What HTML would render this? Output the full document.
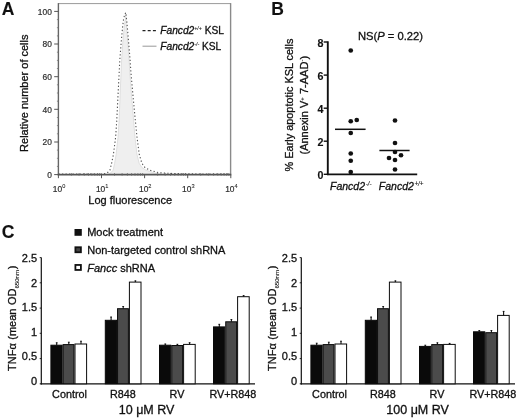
<!DOCTYPE html>
<html><head><meta charset="utf-8"><title>Figure</title>
<style>
svg text{fill:#111;stroke:#111;stroke-width:0.3px;}
svg text[font-weight=bold]{stroke-width:0.12px;}
svg tspan[font-size]{stroke-width:0.1px;}
svg text.g{fill:#2e2e2e;stroke:#2e2e2e;stroke-width:0.2px;}
html,body{margin:0;padding:0;background:#fff;}
body{width:520px;height:419px;overflow:hidden;font-family:"Liberation Sans",sans-serif;}
svg{display:block;}
</style></head><body>
<svg width="520" height="419" viewBox="0 0 520 419">
<rect width="520" height="419" fill="#fff"/>
<g style="filter:blur(0.35px)">
<path d="M108,174.3 L110.9,172.8 L113.1,170.2 L114.6,163.3 L116.1,154.6 L118.0,137.3 L119.1,120.0 L120.3,90.0 L121.6,60.0 L122.9,41.0 L124.0,29.5 L124.9,21.3 L125.9,17.0 L125.4,15.0 L126.0,21.3 L126.8,30.5 L127.7,41.0 L129.1,60.0 L129.8,72.0 L131.6,96.0 L133.6,120.0 L135.0,137.3 L137.0,154.6 L139.2,163.3 L141.9,167.5 L146.0,170.2 L154.1,172.8 L160,174.3 Z" fill="#efefef" stroke="#d6d6d6" stroke-width="0.7"/>
<path d="M58.5,174.0 L100.0,174.0 L104.0,173.8 L107.3,172.8 L109.9,170.2 L111.6,163.3 L113.4,154.6 L115.6,137.3 L116.8,120.0 L118.3,90.0 L119.8,60.0 L121.3,41.0 L122.6,27.0 L123.6,18.8 L124.8,14.5 L125.8,12.5 L126.5,18.8 L127.4,28.0 L128.5,41.0 L130.1,60.0 L130.9,72.0 L133.0,96.0 L135.3,120.0 L137.0,137.3 L139.3,154.6 L141.9,163.3 L145.0,167.5 L149.7,170.2 L159.2,172.8 L175.0,173.6 L200.0,174.0 L230.5,174.0" fill="none" stroke="#555" stroke-width="1.1" stroke-dasharray="1.3,2.2"/>
<path d="M58.4,3.6 H230.8" fill="none" stroke="#9a9a9a" stroke-width="1"/>
<path d="M230.60000000000002,3.1 V174.6" fill="none" stroke="#8a8a8a" stroke-width="1.4"/>
<path d="M58.4,3.1 V175.4" fill="none" stroke="#666" stroke-width="1.4"/>
<path d="M57.699999999999996,174.6 H231.3" fill="none" stroke="#555" stroke-width="1.6"/>
<path d="M54.199999999999996,174.6 H58.4" stroke="#555" stroke-width="1"/>
<text x="51.8" y="178.0" font-family="Liberation Sans, sans-serif" font-size="8.4" text-anchor="end" class="g">0</text>
<path d="M56.9,166.4 H58.4" stroke="#777" stroke-width="0.8"/>
<path d="M56.9,158.3 H58.4" stroke="#777" stroke-width="0.8"/>
<path d="M56.9,150.1 H58.4" stroke="#777" stroke-width="0.8"/>
<path d="M54.199999999999996,142.0 H58.4" stroke="#555" stroke-width="1"/>
<text x="51.8" y="145.4" font-family="Liberation Sans, sans-serif" font-size="8.4" text-anchor="end" class="g">20</text>
<path d="M56.9,133.8 H58.4" stroke="#777" stroke-width="0.8"/>
<path d="M56.9,125.6 H58.4" stroke="#777" stroke-width="0.8"/>
<path d="M56.9,117.5 H58.4" stroke="#777" stroke-width="0.8"/>
<path d="M54.199999999999996,109.3 H58.4" stroke="#555" stroke-width="1"/>
<text x="51.8" y="112.7" font-family="Liberation Sans, sans-serif" font-size="8.4" text-anchor="end" class="g">40</text>
<path d="M56.9,101.2 H58.4" stroke="#777" stroke-width="0.8"/>
<path d="M56.9,93.0 H58.4" stroke="#777" stroke-width="0.8"/>
<path d="M56.9,84.8 H58.4" stroke="#777" stroke-width="0.8"/>
<path d="M54.199999999999996,76.7 H58.4" stroke="#555" stroke-width="1"/>
<text x="51.8" y="80.1" font-family="Liberation Sans, sans-serif" font-size="8.4" text-anchor="end" class="g">60</text>
<path d="M56.9,68.5 H58.4" stroke="#777" stroke-width="0.8"/>
<path d="M56.9,60.4 H58.4" stroke="#777" stroke-width="0.8"/>
<path d="M56.9,52.2 H58.4" stroke="#777" stroke-width="0.8"/>
<path d="M54.199999999999996,44.0 H58.4" stroke="#555" stroke-width="1"/>
<text x="51.8" y="47.4" font-family="Liberation Sans, sans-serif" font-size="8.4" text-anchor="end" class="g">80</text>
<path d="M56.9,35.9 H58.4" stroke="#777" stroke-width="0.8"/>
<path d="M56.9,27.7 H58.4" stroke="#777" stroke-width="0.8"/>
<path d="M56.9,19.6 H58.4" stroke="#777" stroke-width="0.8"/>
<path d="M54.199999999999996,11.4 H58.4" stroke="#555" stroke-width="1"/>
<text x="51.8" y="14.8" font-family="Liberation Sans, sans-serif" font-size="8.4" text-anchor="end" class="g">100</text>
<path d="M58.4,174.6 V178.2" stroke="#555" stroke-width="1"/>
<text x="52.8" y="191.5" font-family="Liberation Sans, sans-serif" font-size="8.4" class="g">10<tspan dy="-3.4" font-size="5.6">0</tspan></text>
<path d="M71.4,173.0 V175.79999999999998" stroke="#666" stroke-width="0.7"/>
<path d="M79.0,173.0 V175.79999999999998" stroke="#666" stroke-width="0.7"/>
<path d="M84.3,173.0 V175.79999999999998" stroke="#666" stroke-width="0.7"/>
<path d="M88.5,173.0 V175.79999999999998" stroke="#666" stroke-width="0.7"/>
<path d="M91.9,173.0 V175.79999999999998" stroke="#666" stroke-width="0.7"/>
<path d="M94.8,173.0 V175.79999999999998" stroke="#666" stroke-width="0.7"/>
<path d="M97.3,173.0 V175.79999999999998" stroke="#666" stroke-width="0.7"/>
<path d="M99.5,173.0 V175.79999999999998" stroke="#666" stroke-width="0.7"/>
<path d="M101.5,174.6 V178.2" stroke="#555" stroke-width="1"/>
<text x="95.9" y="191.5" font-family="Liberation Sans, sans-serif" font-size="8.4" class="g">10<tspan dy="-3.4" font-size="5.6">1</tspan></text>
<path d="M114.5,173.0 V175.79999999999998" stroke="#666" stroke-width="0.7"/>
<path d="M122.1,173.0 V175.79999999999998" stroke="#666" stroke-width="0.7"/>
<path d="M127.4,173.0 V175.79999999999998" stroke="#666" stroke-width="0.7"/>
<path d="M131.6,173.0 V175.79999999999998" stroke="#666" stroke-width="0.7"/>
<path d="M135.0,173.0 V175.79999999999998" stroke="#666" stroke-width="0.7"/>
<path d="M137.9,173.0 V175.79999999999998" stroke="#666" stroke-width="0.7"/>
<path d="M140.4,173.0 V175.79999999999998" stroke="#666" stroke-width="0.7"/>
<path d="M142.6,173.0 V175.79999999999998" stroke="#666" stroke-width="0.7"/>
<path d="M144.6,174.6 V178.2" stroke="#555" stroke-width="1"/>
<text x="139.0" y="191.5" font-family="Liberation Sans, sans-serif" font-size="8.4" class="g">10<tspan dy="-3.4" font-size="5.6">2</tspan></text>
<path d="M157.6,173.0 V175.79999999999998" stroke="#666" stroke-width="0.7"/>
<path d="M165.2,173.0 V175.79999999999998" stroke="#666" stroke-width="0.7"/>
<path d="M170.5,173.0 V175.79999999999998" stroke="#666" stroke-width="0.7"/>
<path d="M174.7,173.0 V175.79999999999998" stroke="#666" stroke-width="0.7"/>
<path d="M178.1,173.0 V175.79999999999998" stroke="#666" stroke-width="0.7"/>
<path d="M181.0,173.0 V175.79999999999998" stroke="#666" stroke-width="0.7"/>
<path d="M183.5,173.0 V175.79999999999998" stroke="#666" stroke-width="0.7"/>
<path d="M185.7,173.0 V175.79999999999998" stroke="#666" stroke-width="0.7"/>
<path d="M187.7,174.6 V178.2" stroke="#555" stroke-width="1"/>
<text x="182.1" y="191.5" font-family="Liberation Sans, sans-serif" font-size="8.4" class="g">10<tspan dy="-3.4" font-size="5.6">3</tspan></text>
<path d="M200.7,173.0 V175.79999999999998" stroke="#666" stroke-width="0.7"/>
<path d="M208.3,173.0 V175.79999999999998" stroke="#666" stroke-width="0.7"/>
<path d="M213.6,173.0 V175.79999999999998" stroke="#666" stroke-width="0.7"/>
<path d="M217.8,173.0 V175.79999999999998" stroke="#666" stroke-width="0.7"/>
<path d="M221.2,173.0 V175.79999999999998" stroke="#666" stroke-width="0.7"/>
<path d="M224.1,173.0 V175.79999999999998" stroke="#666" stroke-width="0.7"/>
<path d="M226.6,173.0 V175.79999999999998" stroke="#666" stroke-width="0.7"/>
<path d="M228.8,173.0 V175.79999999999998" stroke="#666" stroke-width="0.7"/>
<path d="M230.8,174.6 V178.2" stroke="#555" stroke-width="1"/>
<text x="225.2" y="191.5" font-family="Liberation Sans, sans-serif" font-size="8.4" class="g">10<tspan dy="-3.4" font-size="5.6">4</tspan></text>
<text x="1.7" y="15.3" font-family="Liberation Sans, sans-serif" font-size="17.5" font-weight="bold" fill="#111">A</text>
<text transform="translate(28.1,93.2) rotate(-90)" font-family="Liberation Sans, sans-serif" font-size="11" text-anchor="middle" fill="#222">Relative number of cells</text>
<text x="130.2" y="204.3" font-family="Liberation Sans, sans-serif" font-size="11" text-anchor="middle" fill="#222">Log fluorescence</text>
<path d="M142.5,30.6 H156.5" stroke="#222" stroke-width="1.2" stroke-dasharray="3,2.2"/>
<path d="M142.5,46.2 H156.5" stroke="#999" stroke-width="1"/>
<text x="160.3" y="34" font-family="Liberation Sans, sans-serif" font-size="10.2" fill="#222"><tspan font-style="italic">Fancd2</tspan><tspan dy="-3.6" font-size="5.2" font-style="italic">+/+</tspan><tspan dy="3.6"> KSL</tspan></text>
<text x="160.3" y="49.6" font-family="Liberation Sans, sans-serif" font-size="10.2" fill="#222"><tspan font-style="italic">Fancd2</tspan><tspan dy="-3.6" font-size="5.2" font-style="italic">-/-</tspan><tspan dy="3.6"> KSL</tspan></text>
<path d="M327.8,41.3 V175.1" stroke="#111" stroke-width="1.9" fill="none"/>
<path d="M326.90000000000003,174.3 H417.2" stroke="#111" stroke-width="1.7" fill="none"/>
<path d="M323.70000000000005,174.3 H327.6" stroke="#111" stroke-width="1.4"/>
<text x="323.4" y="179.0" font-family="Liberation Sans, sans-serif" font-size="10.7" font-weight="bold" text-anchor="end" fill="#111">0</text>
<path d="M323.70000000000005,141.2 H327.6" stroke="#111" stroke-width="1.4"/>
<text x="323.4" y="145.9" font-family="Liberation Sans, sans-serif" font-size="10.7" font-weight="bold" text-anchor="end" fill="#111">2</text>
<path d="M323.70000000000005,108.2 H327.6" stroke="#111" stroke-width="1.4"/>
<text x="323.4" y="112.9" font-family="Liberation Sans, sans-serif" font-size="10.7" font-weight="bold" text-anchor="end" fill="#111">4</text>
<path d="M323.70000000000005,75.1 H327.6" stroke="#111" stroke-width="1.4"/>
<text x="323.4" y="79.8" font-family="Liberation Sans, sans-serif" font-size="10.7" font-weight="bold" text-anchor="end" fill="#111">6</text>
<path d="M323.70000000000005,42.0 H327.6" stroke="#111" stroke-width="1.4"/>
<text x="323.4" y="46.7" font-family="Liberation Sans, sans-serif" font-size="10.7" font-weight="bold" text-anchor="end" fill="#111">8</text>
<circle cx="350.75" cy="50.5" r="2.35" fill="#111"/>
<circle cx="350.75" cy="121.25" r="2.35" fill="#111"/>
<circle cx="356.75" cy="120" r="2.35" fill="#111"/>
<circle cx="350.75" cy="133" r="2.35" fill="#111"/>
<circle cx="350.75" cy="153.5" r="2.35" fill="#111"/>
<circle cx="350.75" cy="160.75" r="2.35" fill="#111"/>
<circle cx="350.75" cy="172" r="2.35" fill="#111"/>
<circle cx="395" cy="120.5" r="2.35" fill="#111"/>
<circle cx="395" cy="143" r="2.35" fill="#111"/>
<circle cx="395" cy="152" r="2.35" fill="#111"/>
<circle cx="401" cy="155.25" r="2.35" fill="#111"/>
<circle cx="389" cy="158" r="2.35" fill="#111"/>
<circle cx="395" cy="160" r="2.35" fill="#111"/>
<circle cx="395" cy="169.5" r="2.35" fill="#111"/>
<path d="M335,129.3 H365.6" stroke="#111" stroke-width="1.5"/>
<path d="M379.4,150.5 H409.6" stroke="#111" stroke-width="1.5"/>
<text x="271.2" y="15.4" font-family="Liberation Sans, sans-serif" font-size="17.5" font-weight="bold" fill="#111">B</text>
<text x="358" y="40" font-family="Liberation Sans, sans-serif" font-size="11.2" fill="#222">NS(<tspan font-style="italic">P</tspan> = 0.22)</text>
<text transform="translate(293.1,105.0) rotate(-90)" font-family="Liberation Sans, sans-serif" font-size="10.9" text-anchor="middle" fill="#222">% Early apoptotic KSL cells</text>
<text transform="translate(308.0,105.2) rotate(-90)" font-family="Liberation Sans, sans-serif" font-size="11" text-anchor="middle" fill="#222">(Annexin V<tspan dy="-3.6" font-size="6.2">+</tspan><tspan dy="3.6"> 7-AAD</tspan><tspan dy="-3.6" font-size="6.2">-</tspan><tspan dy="3.6">)</tspan></text>
<text x="330" y="189.6" font-family="Liberation Sans, sans-serif" font-size="10.5" font-style="italic" fill="#222">Fancd2<tspan dy="-3.6" dx="0.6" font-size="6.3">-/-</tspan></text>
<text x="378.8" y="189.6" font-family="Liberation Sans, sans-serif" font-size="10.5" font-style="italic" fill="#222">Fancd2<tspan dy="-3.6" dx="0.6" font-size="6.3">+/+</tspan></text>
<text x="1.7" y="237.8" font-family="Liberation Sans, sans-serif" font-size="17.5" font-weight="bold" fill="#111">C</text>
<rect x="75.4" y="229.9" width="5.5" height="5" fill="#111" stroke="#111" stroke-width="1.8"/>
<text x="87.2" y="235.8" font-family="Liberation Sans, sans-serif" font-size="11" fill="#222">Mock treatment</text>
<rect x="75.4" y="247.25" width="5.5" height="5" fill="#444" stroke="#111" stroke-width="1.8"/>
<text x="87.2" y="253.8" font-family="Liberation Sans, sans-serif" font-size="11" fill="#222">Non-targeted control shRNA</text>
<rect x="75.4" y="264.95" width="5.5" height="5" fill="#fff" stroke="#111" stroke-width="1.8"/>
<text x="87.2" y="271.6" font-family="Liberation Sans, sans-serif" font-size="11" fill="#222"><tspan font-style="italic">Fancc</tspan> shRNA</text>
<path d="M41.3,257.4 V384.40000000000003" stroke="#111" stroke-width="1.2" fill="none"/>
<path d="M40.699999999999996,383.8 H255" stroke="#111" stroke-width="1.2" fill="none"/>
<path d="M39.699999999999996,383.8 H41.3" stroke="#111" stroke-width="0.9"/>
<text x="37.1" y="384.9" font-family="Liberation Sans, sans-serif" font-size="11" text-anchor="end" fill="#222">0</text>
<path d="M39.699999999999996,358.6 H41.3" stroke="#111" stroke-width="0.9"/>
<text x="37.1" y="360.4" font-family="Liberation Sans, sans-serif" font-size="11" text-anchor="end" fill="#222">0.5</text>
<path d="M39.699999999999996,333.3 H41.3" stroke="#111" stroke-width="0.9"/>
<text x="37.1" y="335.9" font-family="Liberation Sans, sans-serif" font-size="11" text-anchor="end" fill="#222">1</text>
<path d="M39.699999999999996,308.1 H41.3" stroke="#111" stroke-width="0.9"/>
<text x="37.1" y="311.4" font-family="Liberation Sans, sans-serif" font-size="11" text-anchor="end" fill="#222">1.5</text>
<path d="M39.699999999999996,282.8 H41.3" stroke="#111" stroke-width="0.9"/>
<text x="37.1" y="286.9" font-family="Liberation Sans, sans-serif" font-size="11" text-anchor="end" fill="#222">2</text>
<path d="M39.699999999999996,257.6 H41.3" stroke="#111" stroke-width="0.9"/>
<text x="37.1" y="262.4" font-family="Liberation Sans, sans-serif" font-size="11" text-anchor="end" fill="#222">2.5</text>
<rect x="50.90" y="345.2" width="11.25" height="38.6" fill="#0a0a0a" stroke="#0a0a0a" stroke-width="1"/>
<path d="M56.7,345.2 V342.5" stroke="#111" stroke-width="1.1"/>
<path d="M55.8,342.8 H57.6" stroke="#111" stroke-width="0.9"/>
<rect x="63.15" y="344.6" width="10.85" height="39.2" fill="#4b4b4b" stroke="#0a0a0a" stroke-width="1"/>
<path d="M68.8,344.6 V341.9" stroke="#111" stroke-width="1.1"/>
<path d="M67.9,342.2 H69.7" stroke="#111" stroke-width="0.9"/>
<rect x="75.00" y="344.0" width="11.60" height="39.8" fill="#ffffff" stroke="#0a0a0a" stroke-width="1"/>
<path d="M81.0,344.0 V340.9" stroke="#111" stroke-width="1.1"/>
<path d="M80.1,341.2 H81.9" stroke="#111" stroke-width="0.9"/>
<rect x="105.30" y="320.3" width="11.25" height="63.5" fill="#0a0a0a" stroke="#0a0a0a" stroke-width="1"/>
<path d="M111.1,320.3 V316.8" stroke="#111" stroke-width="1.1"/>
<path d="M110.2,317.1 H112.0" stroke="#111" stroke-width="0.9"/>
<rect x="117.55" y="308.7" width="10.85" height="75.1" fill="#4b4b4b" stroke="#0a0a0a" stroke-width="1"/>
<path d="M123.2,308.7 V306.2" stroke="#111" stroke-width="1.1"/>
<path d="M122.3,306.5 H124.1" stroke="#111" stroke-width="0.9"/>
<rect x="129.40" y="282.1" width="11.60" height="101.7" fill="#ffffff" stroke="#0a0a0a" stroke-width="1"/>
<path d="M135.4,282.1 V280.6" stroke="#111" stroke-width="1.1"/>
<path d="M134.5,280.9 H136.3" stroke="#111" stroke-width="0.9"/>
<rect x="159.50" y="345.2" width="11.25" height="38.6" fill="#0a0a0a" stroke="#0a0a0a" stroke-width="1"/>
<path d="M165.3,345.2 V343.7" stroke="#111" stroke-width="1.1"/>
<path d="M164.4,344.0 H166.2" stroke="#111" stroke-width="0.9"/>
<rect x="171.75" y="345.5" width="10.85" height="38.3" fill="#4b4b4b" stroke="#0a0a0a" stroke-width="1"/>
<path d="M177.4,345.5 V344.0" stroke="#111" stroke-width="1.1"/>
<path d="M176.5,344.3 H178.3" stroke="#111" stroke-width="0.9"/>
<rect x="183.60" y="344.4" width="11.60" height="39.4" fill="#ffffff" stroke="#0a0a0a" stroke-width="1"/>
<path d="M189.6,344.4 V342.4" stroke="#111" stroke-width="1.1"/>
<path d="M188.7,342.7 H190.5" stroke="#111" stroke-width="0.9"/>
<rect x="213.50" y="326.9" width="11.25" height="56.9" fill="#0a0a0a" stroke="#0a0a0a" stroke-width="1"/>
<path d="M219.3,326.9 V324.0" stroke="#111" stroke-width="1.1"/>
<path d="M218.4,324.3 H220.2" stroke="#111" stroke-width="0.9"/>
<rect x="225.75" y="321.8" width="10.85" height="62.0" fill="#4b4b4b" stroke="#0a0a0a" stroke-width="1"/>
<path d="M231.4,321.8 V319.2" stroke="#111" stroke-width="1.1"/>
<path d="M230.5,319.5 H232.3" stroke="#111" stroke-width="0.9"/>
<rect x="237.60" y="296.7" width="11.60" height="87.1" fill="#ffffff" stroke="#0a0a0a" stroke-width="1"/>
<path d="M243.6,296.7 V295.3" stroke="#111" stroke-width="1.1"/>
<path d="M242.7,295.6 H244.5" stroke="#111" stroke-width="0.9"/>
<text x="69.5" y="398.2" font-family="Liberation Sans, sans-serif" font-size="10.8" text-anchor="middle" fill="#222">Control</text>
<text x="122.8" y="398.2" font-family="Liberation Sans, sans-serif" font-size="10.8" text-anchor="middle" fill="#222">R848</text>
<text x="177.0" y="398.2" font-family="Liberation Sans, sans-serif" font-size="10.8" text-anchor="middle" fill="#222">RV</text>
<text x="232.9" y="398.2" font-family="Liberation Sans, sans-serif" font-size="10.8" text-anchor="middle" fill="#222">RV+R848</text>
<text x="146.6" y="414.3" font-family="Liberation Sans, sans-serif" font-size="12.5" text-anchor="middle" fill="#222">10 &#956;M RV</text>
<text transform="translate(15.9,370.9) rotate(-90)" font-family="Liberation Sans, sans-serif" font-size="11" word-spacing="0.4" fill="#222">TNF&#945; (mean OD<tspan dy="2.6" font-size="6.1">650nm</tspan><tspan dy="-2.6" dx="0.7">)</tspan></text>
<path d="M301.3,257.4 V384.40000000000003" stroke="#111" stroke-width="1.2" fill="none"/>
<path d="M300.7,383.8 H515" stroke="#111" stroke-width="1.2" fill="none"/>
<path d="M299.7,383.8 H301.3" stroke="#111" stroke-width="0.9"/>
<text x="297.1" y="384.9" font-family="Liberation Sans, sans-serif" font-size="11" text-anchor="end" fill="#222">0</text>
<path d="M299.7,358.6 H301.3" stroke="#111" stroke-width="0.9"/>
<text x="297.1" y="360.4" font-family="Liberation Sans, sans-serif" font-size="11" text-anchor="end" fill="#222">0.5</text>
<path d="M299.7,333.3 H301.3" stroke="#111" stroke-width="0.9"/>
<text x="297.1" y="335.9" font-family="Liberation Sans, sans-serif" font-size="11" text-anchor="end" fill="#222">1</text>
<path d="M299.7,308.1 H301.3" stroke="#111" stroke-width="0.9"/>
<text x="297.1" y="311.4" font-family="Liberation Sans, sans-serif" font-size="11" text-anchor="end" fill="#222">1.5</text>
<path d="M299.7,282.8 H301.3" stroke="#111" stroke-width="0.9"/>
<text x="297.1" y="286.9" font-family="Liberation Sans, sans-serif" font-size="11" text-anchor="end" fill="#222">2</text>
<path d="M299.7,257.6 H301.3" stroke="#111" stroke-width="0.9"/>
<text x="297.1" y="262.4" font-family="Liberation Sans, sans-serif" font-size="11" text-anchor="end" fill="#222">2.5</text>
<rect x="310.90" y="345.2" width="11.25" height="38.6" fill="#0a0a0a" stroke="#0a0a0a" stroke-width="1"/>
<path d="M316.7,345.2 V342.9" stroke="#111" stroke-width="1.1"/>
<path d="M315.8,343.2 H317.6" stroke="#111" stroke-width="0.9"/>
<rect x="323.15" y="344.6" width="10.85" height="39.2" fill="#4b4b4b" stroke="#0a0a0a" stroke-width="1"/>
<path d="M328.8,344.6 V341.9" stroke="#111" stroke-width="1.1"/>
<path d="M327.9,342.2 H329.7" stroke="#111" stroke-width="0.9"/>
<rect x="335.00" y="344.0" width="11.60" height="39.8" fill="#ffffff" stroke="#0a0a0a" stroke-width="1"/>
<path d="M341.0,344.0 V340.9" stroke="#111" stroke-width="1.1"/>
<path d="M340.1,341.2 H341.9" stroke="#111" stroke-width="0.9"/>
<rect x="365.30" y="320.3" width="11.25" height="63.5" fill="#0a0a0a" stroke="#0a0a0a" stroke-width="1"/>
<path d="M371.1,320.3 V316.8" stroke="#111" stroke-width="1.1"/>
<path d="M370.2,317.1 H372.0" stroke="#111" stroke-width="0.9"/>
<rect x="377.55" y="308.7" width="10.85" height="75.1" fill="#4b4b4b" stroke="#0a0a0a" stroke-width="1"/>
<path d="M383.2,308.7 V306.2" stroke="#111" stroke-width="1.1"/>
<path d="M382.3,306.5 H384.1" stroke="#111" stroke-width="0.9"/>
<rect x="389.40" y="282.1" width="11.60" height="101.7" fill="#ffffff" stroke="#0a0a0a" stroke-width="1"/>
<path d="M395.4,282.1 V280.6" stroke="#111" stroke-width="1.1"/>
<path d="M394.5,280.9 H396.3" stroke="#111" stroke-width="0.9"/>
<rect x="419.50" y="346.4" width="11.25" height="37.4" fill="#0a0a0a" stroke="#0a0a0a" stroke-width="1"/>
<path d="M425.3,346.4 V344.9" stroke="#111" stroke-width="1.1"/>
<path d="M424.4,345.2 H426.2" stroke="#111" stroke-width="0.9"/>
<rect x="431.75" y="344.6" width="10.85" height="39.2" fill="#4b4b4b" stroke="#0a0a0a" stroke-width="1"/>
<path d="M437.4,344.6 V342.5" stroke="#111" stroke-width="1.1"/>
<path d="M436.5,342.8 H438.3" stroke="#111" stroke-width="0.9"/>
<rect x="443.60" y="344.4" width="11.60" height="39.4" fill="#ffffff" stroke="#0a0a0a" stroke-width="1"/>
<path d="M449.6,344.4 V343.1" stroke="#111" stroke-width="1.1"/>
<path d="M448.7,343.4 H450.5" stroke="#111" stroke-width="0.9"/>
<rect x="473.50" y="331.8" width="11.25" height="52.0" fill="#0a0a0a" stroke="#0a0a0a" stroke-width="1"/>
<path d="M479.3,331.8 V330.3" stroke="#111" stroke-width="1.1"/>
<path d="M478.4,330.6 H480.2" stroke="#111" stroke-width="0.9"/>
<rect x="485.75" y="332.7" width="10.85" height="51.1" fill="#4b4b4b" stroke="#0a0a0a" stroke-width="1"/>
<path d="M491.4,332.7 V330.2" stroke="#111" stroke-width="1.1"/>
<path d="M490.5,330.5 H492.3" stroke="#111" stroke-width="0.9"/>
<rect x="497.60" y="315.4" width="11.60" height="68.4" fill="#ffffff" stroke="#0a0a0a" stroke-width="1"/>
<path d="M503.6,315.4 V311.1" stroke="#111" stroke-width="1.1"/>
<path d="M502.7,311.4 H504.5" stroke="#111" stroke-width="0.9"/>
<text x="329.5" y="398.2" font-family="Liberation Sans, sans-serif" font-size="10.8" text-anchor="middle" fill="#222">Control</text>
<text x="382.8" y="398.2" font-family="Liberation Sans, sans-serif" font-size="10.8" text-anchor="middle" fill="#222">R848</text>
<text x="437.0" y="398.2" font-family="Liberation Sans, sans-serif" font-size="10.8" text-anchor="middle" fill="#222">RV</text>
<text x="492.9" y="398.2" font-family="Liberation Sans, sans-serif" font-size="10.8" text-anchor="middle" fill="#222">RV+R848</text>
<text x="417.6" y="414.3" font-family="Liberation Sans, sans-serif" font-size="12.5" text-anchor="middle" fill="#222">100 &#956;M RV</text>
<text transform="translate(275.9,370.9) rotate(-90)" font-family="Liberation Sans, sans-serif" font-size="11" word-spacing="0.4" fill="#222">TNF&#945; (mean OD<tspan dy="2.6" font-size="6.1">650nm</tspan><tspan dy="-2.6" dx="0.7">)</tspan></text>
</g>
</svg>
</body></html>
